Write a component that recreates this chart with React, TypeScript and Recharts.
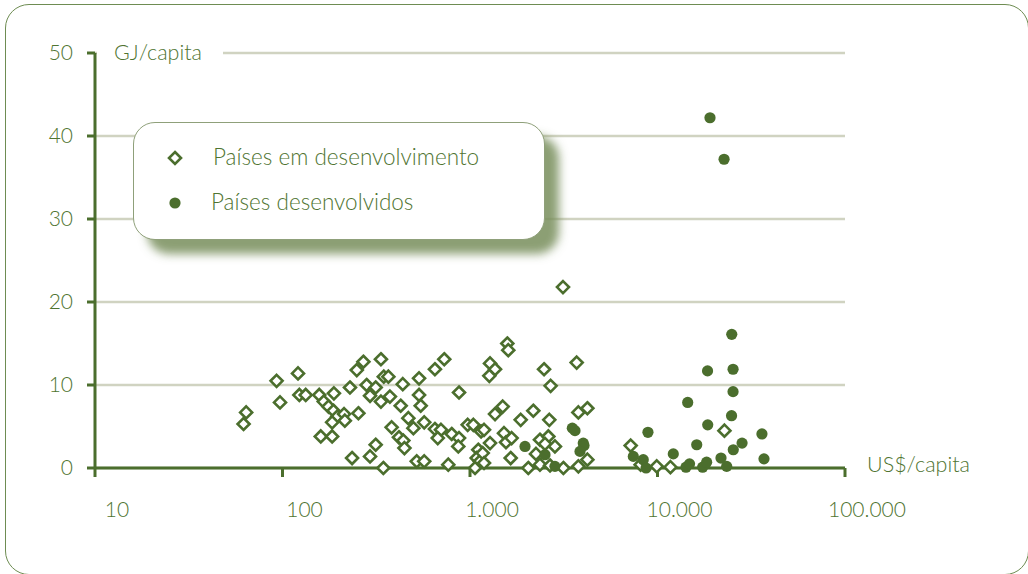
import { ScatterChart, Scatter, XAxis, YAxis, CartesianGrid, Legend } from "recharts";

// US$/capita vs GJ/capita
const DEV_GDP = [
  62, 64, 93, 97, 121, 123, 133, 157, 188, 166, 176, 187, 196, 184, 213, 215, 229, 249, 254, 160,
  184, 235, 270, 335, 729, 650, 347, 367, 281, 314, 438, 535, 293, 335, 374, 535, 874, 427, 546, 469,
  382, 499, 570, 418, 441, 447, 650, 700, 673, 799, 874, 866, 972, 1042, 1146, 314, 293, 345, 520, 570,
  766, 1107, 1086, 1130, 1064, 1581, 1600, 1279, 1360, 1268, 2483, 3706, 2692, 3133, 1360, 1494, 2176, 1864, 2648, 3784,
  4227, 1188, 1518, 1279, 1556, 1667, 2361, 2618, 2512, 2838, 1169, 1648, 2249, 4227, 2046, 2361, 2673, 3148, 3784, 1188,
  7194, 9908, 11720, 22750, 8128,
];
const DEV_ENERGY = [
  5.3, 6.7, 10.5, 7.9, 11.4, 8.8, 8.8, 8.8, 9.0, 8.0, 7.4, 6.9, 6.2, 5.5, 6.5, 5.7, 9.7, 11.8, 6.6, 3.8,
  3.8, 1.2, 12.8, 13.1, 13.1, 11.9, 11.0, 11.0, 10.0, 9.7, 10.1, 10.8, 8.7, 8.0, 8.6, 8.8, 9.1, 7.5, 7.5, 6.0,
  4.9, 4.8, 5.5, 3.7, 3.3, 2.4, 4.7, 4.6, 3.6, 4.1, 3.6, 2.6, 5.2, 5.2, 4.4, 2.8, 1.4, 0, 0.8, 0.8,
  0.4, 2.2, 1.2, 0.8, 0, 15.0, 14.2, 12.6, 11.9, 11.1, 11.9, 12.7, 9.9, 21.8, 6.5, 7.4, 6.9, 5.8, 5.8, 6.7,
  7.2, 4.6, 4.2, 3.0, 3.1, 3.6, 3.4, 3.8, 2.9, 2.6, 1.8, 1.2, 1.7, 1.0, 0, 0.4, 0.3, 0, 0.2, 0.6,
  2.7, 0.2, 0.1, 4.5, 0.4,
];
const IND_GDP = [
  19055, 22650, 24890, 18490, 25290, 25290, 14490, 24830, 18530, 8892, 36060, 28250, 25360, 16190, 12140, 36980, 7430,
  8395, 8690, 14190, 14820, 17410, 18280, 21810, 23390, 3513, 3631, 4018, 4055, 3862, 1965, 2512, 2838,
];
const IND_ENERGY = [
  42.2, 37.2, 16.1, 11.7, 11.9, 9.2, 7.9, 6.3, 5.2, 4.3, 4.1, 3.0, 2.2, 2.8, 1.7, 1.1, 1.4,
  1.0, 0, 0.1, 0.5, 0.1, 0.7, 1.2, 0.2, 4.8, 4.5, 3.0, 2.7, 2.0, 2.6, 1.6, 0.2,
];
const X_TICKS = [10, 100, 1000, 10000, 100000];
const Y_TICKS = [0, 10, 20, 30, 40, 50];
const SERIES = ["Países em desenvolvimento", "Países desenvolvidos"];

const GREEN = "#4b6e2d";
const TEXT = "#4f7431";
const GRID = "#d0d3c1";
const FONT = "Lato, 'Open Sans', sans-serif";
const WEIGHT = 300;

const developing = DEV_GDP.map((x, i) => ({ x, y: DEV_ENERGY[i] }));
const developed = IND_GDP.map((x, i) => ({ x, y: IND_ENERGY[i] }));

const fmt = (v: number) => String(v).replace(/\B(?=(\d{3})+(?!\d))/g, ".");

const Diamond = ({ cx, cy }: any) => {
  const r = 6;
  return (
    <path
      d={`M${cx},${cy - r}L${cx + r},${cy}L${cx},${cy + r}L${cx - r},${cy}Z`}
      fill="#fff"
      stroke={GREEN}
      strokeWidth={2.6}
    />
  );
};

const Dot = ({ cx, cy }: any) => <circle cx={cx} cy={cy} r={5.6} fill={GREEN} />;

const XTick = ({ x, y, payload }: any) => (
  <text x={x + 22} y={y + 38} textAnchor="middle" fill={TEXT} fontSize={21} fontWeight={WEIGHT} fontFamily={FONT}>
    {fmt(payload.value)}
  </text>
);

const YTick = ({ x, y, payload }: any) => (
  <text x={x - 12} y={y + 7} textAnchor="end" fill={TEXT} fontSize={21} fontWeight={WEIGHT} fontFamily={FONT}>
    {payload.value}
  </text>
);

const renderLegend = () => (
  <div
    style={{
      width: 412,
      height: 118,
      boxSizing: "border-box",
      border: "1.5px solid #8fa07a",
      borderRadius: 22,
      background: "#fff",
      boxShadow: "14px 14px 10px rgba(120,142,92,0.85)",
      position: "relative",
      fontFamily: FONT,
      fontWeight: WEIGHT,
      fontSize: 22.5,
      color: TEXT,
    }}
  >
    <svg width={20} height={20} style={{ position: "absolute", left: 31, top: 25 }}>
      <path d="M10,4L16,10L10,16L4,10Z" fill="#fff" stroke={GREEN} strokeWidth={2.6} />
    </svg>
    <div style={{ position: "absolute", left: 79, top: 20, whiteSpace: "nowrap" }}>{SERIES[0]}</div>
    <svg width={20} height={20} style={{ position: "absolute", left: 31, top: 70 }}>
      <circle cx={10} cy={10} r={5.6} fill={GREEN} />
    </svg>
    <div style={{ position: "absolute", left: 77, top: 65, whiteSpace: "nowrap" }}>{SERIES[1]}</div>
  </div>
);

export default function App() {
  return (
    <div style={{ position: "absolute", left: 0, top: 0, width: 1028, height: 574, overflow: "hidden", background: "#fff" }}>
      <div
        style={{
          position: "absolute",
          left: 5,
          top: 4,
          width: 1024,
          height: 571,
          boxSizing: "border-box",
          border: "1.5px solid #6e8c52",
          borderRadius: 24,
        }}
      />
      <ScatterChart
        width={1028}
        height={574}
        margin={{ top: 53, right: 183, bottom: 56, left: 35 }}
        style={{ fontFamily: FONT }}
      >
        <CartesianGrid horizontal vertical={false} stroke={GRID} strokeWidth={2.5} />
        <XAxis
          dataKey="x"
          type="number"
          scale="log"
          domain={[10, 100000]}
          ticks={X_TICKS}
          height={50}
          axisLine={{ stroke: GREEN, strokeWidth: 3 }}
          tickLine={{ stroke: GREEN, strokeWidth: 3 }}
          tickSize={9}
          tick={<XTick />}
          allowDataOverflow
          label={({ viewBox }: any) => (
            <text
              x={viewBox.x + viewBox.width + 22}
              y={viewBox.y + 4}
              fill={TEXT}
              fontSize={21.5}
              fontWeight={WEIGHT}
              fontFamily={FONT}
            >
              US$/capita
            </text>
          )}
        />
        <YAxis
          dataKey="y"
          type="number"
          domain={[0, 50]}
          ticks={Y_TICKS}
          width={60}
          axisLine={{ stroke: GREEN, strokeWidth: 3 }}
          tickLine={{ stroke: GREEN, strokeWidth: 3 }}
          tickSize={8}
          tick={<YTick />}
          label={({ viewBox }: any) => (
            <g>
              <rect x={viewBox.x + viewBox.width + 2} y={viewBox.y - 14} width={126} height={28} fill="#fff" />
              <text
                x={viewBox.x + viewBox.width + 19}
                y={viewBox.y + 7}
                fill={TEXT}
                fontSize={21.5}
                fontWeight={WEIGHT}
                fontFamily={FONT}
              >
                GJ/capita
              </text>
            </g>
          )}
        />
        <Legend
          layout="vertical"
          align="center"
          verticalAlign="middle"
          content={renderLegend}
          wrapperStyle={{ left: 133, top: 122, width: 412, height: 118 }}
        />
        <Scatter name={SERIES[0]} data={developing} shape={<Diamond />} isAnimationActive={false} />
        <Scatter name={SERIES[1]} data={developed} shape={<Dot />} isAnimationActive={false} />
      </ScatterChart>
    </div>
  );
}
